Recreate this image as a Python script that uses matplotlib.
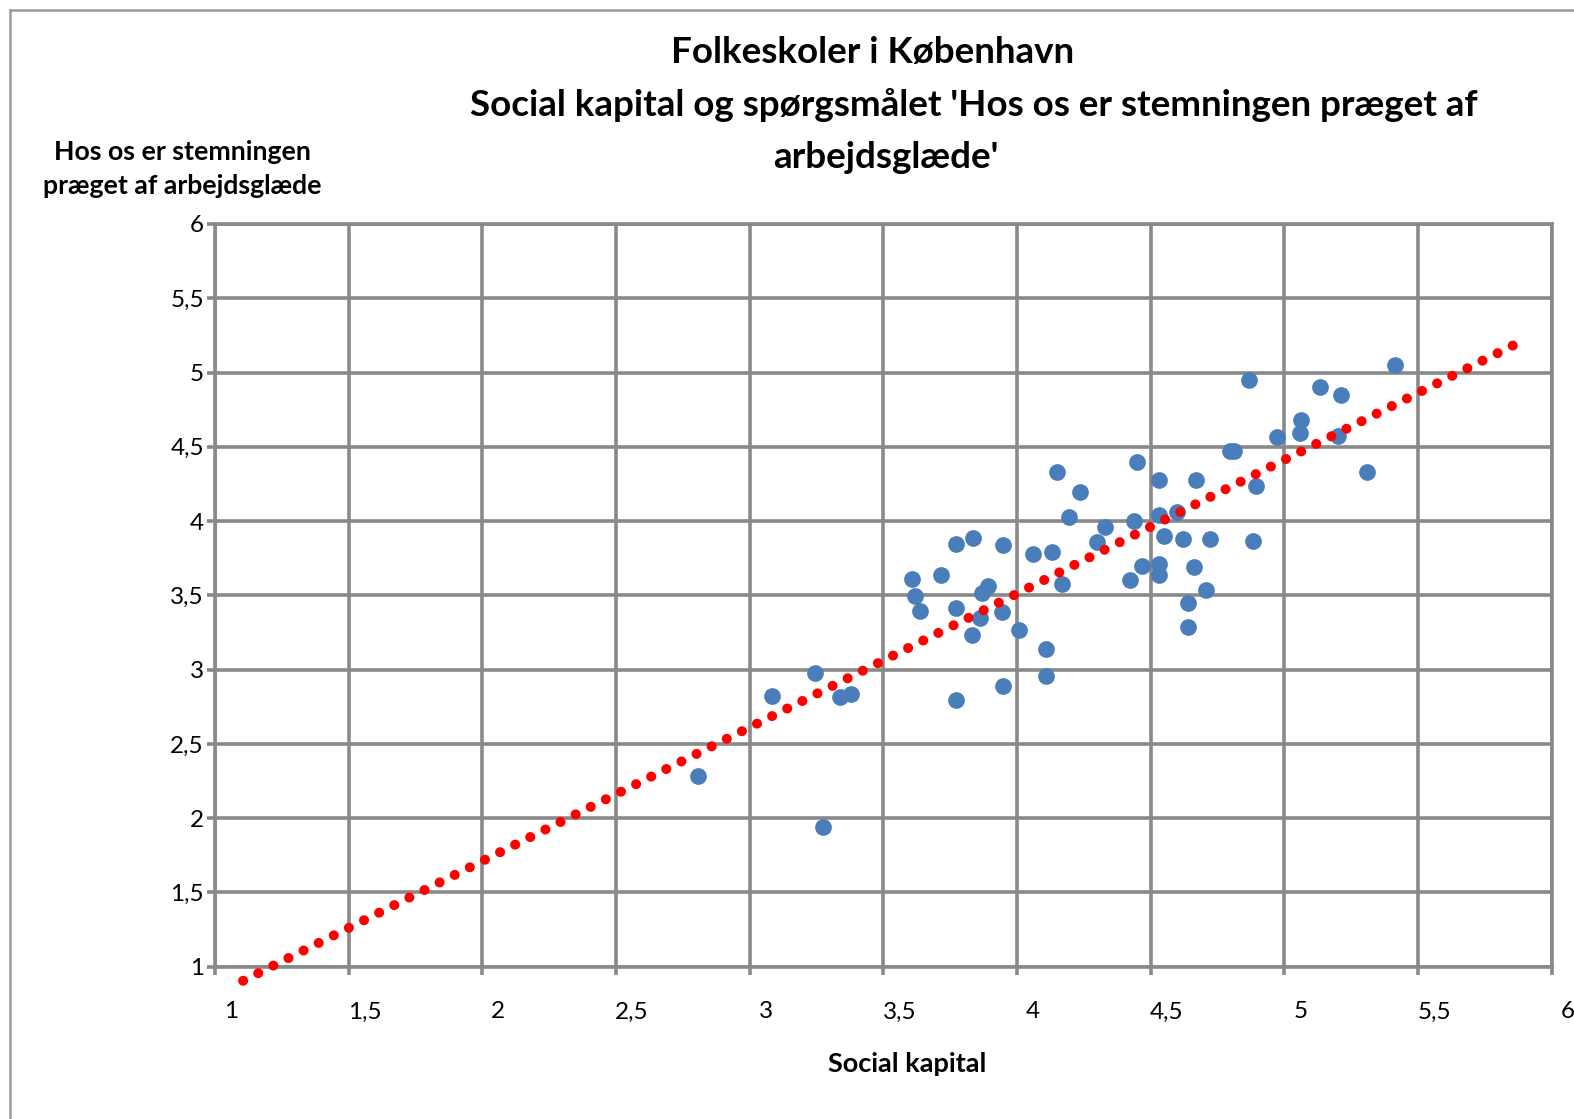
import numpy as np
import matplotlib
matplotlib.use("Agg")
import matplotlib.pyplot as plt
from matplotlib.lines import Line2D
from matplotlib.transforms import ScaledTranslation

# data (Social kapital vs. arbejdsglaede)
social_kapital = [
    2.805, 3.276, 3.085, 3.245, 3.336, 3.379, 3.609, 3.618, 3.636, 3.716,
    3.771, 3.770, 3.770, 3.837, 3.830, 3.861, 3.869, 3.890, 3.942, 3.949,
    3.949, 4.009, 4.061, 4.109, 4.109, 4.129, 4.148, 4.169, 4.196, 4.234,
    4.301, 4.328, 4.421, 4.448, 4.437, 4.469, 4.530, 4.530, 4.530, 4.530,
    4.550, 4.598, 4.622, 4.641, 4.641, 4.662, 4.669, 4.708, 4.721, 4.795,
    4.810, 4.868, 4.881, 4.894, 4.973, 5.057, 5.061, 5.134, 5.202, 5.213,
    5.309, 5.415,
]
arbejdsglaede = [
    2.287, 1.942, 2.820, 2.976, 2.815, 2.838, 3.607, 3.494, 3.393, 3.640,
    3.847, 3.416, 2.798, 3.884, 3.232, 3.346, 3.517, 3.566, 3.387, 3.840,
    2.887, 3.268, 3.779, 3.138, 2.954, 3.790, 4.328, 3.578, 4.026, 4.198,
    3.857, 3.958, 3.600, 4.400, 4.003, 3.696, 4.277, 4.042, 3.712, 3.640,
    3.900, 4.064, 3.880, 3.450, 3.286, 3.689, 4.277, 3.533, 3.878, 4.469,
    4.469, 4.950, 3.869, 4.239, 4.568, 4.595, 4.681, 4.900, 4.575, 4.849,
    4.333, 5.050,
]
trend_range = [1.105, 5.88]

ticks = [1, 1.5, 2, 2.5, 3, 3.5, 4, 4.5, 5, 5.5, 6]
tick_labels = ['1', '1,5', '2', '2,5', '3', '3,5', '4', '4,5', '5', '5,5', '6']

plt.rcParams['font.family'] = ['Lato', 'DejaVu Sans']

W, H = 1574, 1119
fig = plt.figure(figsize=(W / 100, H / 100), dpi=100)
ax = fig.add_axes([215 / W, 1 - 966.7 / H, (1551.7 - 215) / W, (966.7 - 224) / H])

grey = '#898989'
ax.set_xlim(1, 6)
ax.set_ylim(1, 6)
ax.set_xticks(ticks)
ax.set_xticklabels(tick_labels)
ax.set_yticks(ticks)
ax.set_yticklabels(tick_labels)
ax.grid(True, color=grey, linewidth=2.6)
ax.set_axisbelow(True)
for s in ax.spines.values():
    s.set_color(grey)
    s.set_linewidth(2.6)
ax.tick_params(direction='out', length=6, width=2.6, color=grey, labelsize=17.5)
ax.tick_params(axis='x', pad=19)
ax.tick_params(axis='y', pad=2)

# Excel puts the x labels a little right of the gridlines
shift = ScaledTranslation(16 / 100, 0, fig.dpi_scale_trans)
for lab in ax.get_xticklabels():
    lab.set_transform(lab.get_transform() + shift)

ax.scatter(social_kapital, arbejdsglaede, s=145, color='#4a7ebb', linewidths=0, zorder=3)

slope, intercept = np.polyfit(social_kapital, arbejdsglaede, 1)
tx = np.array(trend_range)
ax.plot(tx, slope * tx + intercept, color='red', linewidth=7.2,
        linestyle=(0, (0.01, 1.68)), dash_capstyle='round', clip_on=False, zorder=4)

fig.text(873 / W, 1 - 52 / H, 'Folkeskoler i København', ha='center', va='center',
         fontsize=26.5, weight='bold')
fig.text(974 / W, 1 - 105 / H, "Social kapital og spørgsmålet 'Hos os er stemningen præget af",
         ha='center', va='center', fontsize=26.5, weight='bold')
fig.text(886 / W, 1 - 158 / H, "arbejdsglæde'", ha='center', va='center',
         fontsize=26.5, weight='bold')

fig.text(182 / W, 1 - 169 / H, 'Hos os er stemningen\npræget af arbejdsglæde',
         ha='center', va='center', fontsize=19.2, weight='bold', linespacing=1.55)
fig.text(907 / W, 1 - 1064 / H, 'Social kapital', ha='center', va='center',
         fontsize=19.5, weight='bold')

# chart area border (only top and left visible)
fig.add_artist(Line2D([10 / W, 10 / W], [0, 1 - 10 / H], color='#9a9a9a', linewidth=1.8))
fig.add_artist(Line2D([10 / W, 1], [1 - 10 / H, 1 - 10 / H], color='#9a9a9a', linewidth=1.8))

fig.savefig('out.png', dpi=100)
